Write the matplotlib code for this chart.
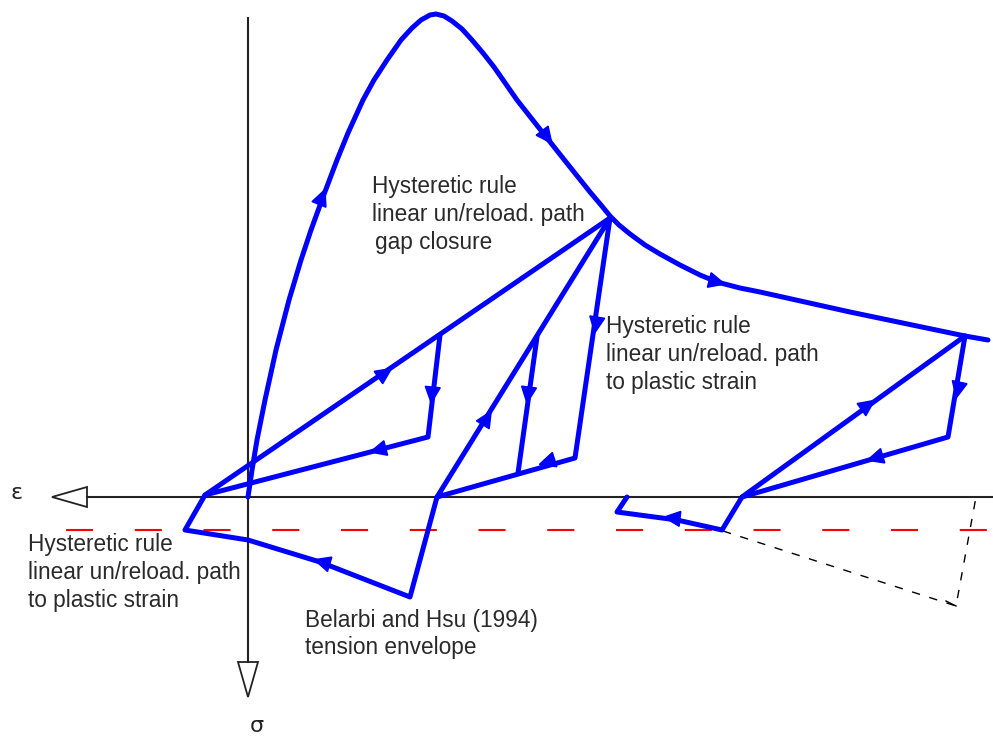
import matplotlib
matplotlib.use("Agg")
import matplotlib.pyplot as plt
from matplotlib.patches import Polygon
import numpy as np

plt.rcParams['lines.scale_dashes'] = False

# ---- schematic data (strain -> x, stress -> y, in drawing units) ----
env_x = [248, 252, 257, 265, 276, 289, 301, 311, 323, 337, 348, 363, 374, 387, 401, 412,
         421, 430, 436, 444, 452, 462, 472, 483, 494, 517, 543, 570, 590, 601, 610,
         619, 630, 645, 660, 680, 700, 717, 740, 760, 850, 965, 988]
env_y = [497, 470, 440, 400, 350, 300, 260, 230, 197, 160, 133, 100, 80, 60, 40, 28,
         20, 15, 14, 16, 21, 29, 40, 53, 67, 100, 133, 167, 192, 205, 216,
         225, 234, 245, 254, 265, 275, 282, 288, 292, 312, 336, 340]

cyc1_x = [205, 610]
cyc1_y = [495, 218]
cyc1b_x = [440, 428, 205, 185, 248, 320, 410, 437, 610, 575, 437]
cyc1b_y = [335, 437, 495, 530, 540, 562, 597, 497, 218, 458, 497]
cyc2_x = [537, 518]
cyc2_y = [337, 473]
cyc3_x = [965, 742, 722, 677, 617, 627]
cyc3_y = [336, 497, 530, 520, 512, 497]
cyc3b_x = [965, 948, 742]
cyc3b_y = [336, 437, 497]

dash_x = [723, 956, 976]
dash_y = [531, 606, 497]
hook_x = [946, 956]
hook_y = [601, 606]

ref_y = 530
ref_x = [66, 993]

# arrow markers: position and a point it is heading to
arrows = [
    (322, 197, 337, 160), (547, 137, 570, 167), (717, 282, 740, 288),
    (385, 373, 610, 218), (432, 395, 428, 437), (378, 450, 205, 495),
    (322, 562, 248, 540), (487, 418, 610, 218), (528, 395, 518, 473),
    (547, 462, 437, 497), (596, 325, 575, 458),
    (868, 405, 965, 336), (958, 390, 948, 437), (875, 458, 742, 497),
    (672, 518, 617, 512),
]

labels_gap = ["Hysteretic rule", "linear un/reload. path", "gap closure"]
labels_mid = ["Hysteretic rule", "linear un/reload. path", "to plastic strain"]
labels_left = ["Hysteretic rule", "linear un/reload. path", "to plastic strain"]
labels_bel = ["Belarbi and Hsu (1994)", "tension envelope"]

BLUE = "#0000ff"
fig = plt.figure(figsize=(9.93, 7.36), dpi=100)
ax = fig.add_axes([0, 0, 1, 1])
ax.set_xlim(0, 993)
ax.set_ylim(736, 0)
ax.axis('off')

# axes
ax.plot([87, 993], [497, 497], color="#222222", lw=1.5, zorder=2)
ax.plot([248, 248], [18, 662], color="#222222", lw=1.5, zorder=2)
ax.add_patch(Polygon([[52, 497], [87, 487], [87, 507]], closed=True, fill=False,
                     edgecolor="#222222", lw=1.3, zorder=2))
ax.add_patch(Polygon([[248, 697], [238, 662], [258, 662]], closed=True, fill=False,
                     edgecolor="#222222", lw=1.3, zorder=2))
ax.text(17, 493, "ε", fontsize=16, ha='center', va='center', color="#222222",
        family=["DejaVu Sans"])
ax.text(257, 726, "σ", fontsize=16, ha='center', va='center', color="#222222",
        family=["DejaVu Sans"])

# reference dashed red line
ax.plot(ref_x, [ref_y, ref_y], color="#ff0000", lw=1.5,
        linestyle=(0, (19.5, 30)), zorder=1)

# black dashed
ax.plot(dash_x, dash_y, color="black", lw=1.0, linestyle=(0, (6, 7)), zorder=1)
ax.plot(hook_x, hook_y, color="black", lw=1.0, zorder=1)

lw = 3.6
for xs, ys in [(env_x, env_y), (cyc1_x, cyc1_y), (cyc1b_x, cyc1b_y),
               (cyc2_x, cyc2_y), (cyc3_x, cyc3_y), (cyc3b_x, cyc3b_y)]:
    ax.plot(xs, ys, color=BLUE, lw=lw, solid_joinstyle='round',
            solid_capstyle='round', zorder=3)

L, W = 16, 7.5
for x, y, tx, ty in arrows:
    d = np.array([tx - x, ty - y], float)
    d /= np.hypot(*d)
    n = np.array([-d[1], d[0]])
    p = np.array([x, y], float)
    tip = p + d * L / 2
    b1 = p - d * L / 2 + n * W
    b2 = p - d * L / 2 - n * W
    ax.add_patch(Polygon([tip, b1, b2], closed=True, color=BLUE, zorder=4))

tkw = dict(fontsize=16.3, color="#2a2a2a", family=["Liberation Sans", "DejaVu Sans"],
           va='center', ha='left')
for i, s in enumerate(labels_gap):
    ax.text(372 + (3 if i == 2 else 0), 187 + 27.5 * i, s, **tkw)
for i, s in enumerate(labels_mid):
    ax.text(606, 327 + 27.5 * i, s, **tkw)
for i, s in enumerate(labels_left):
    ax.text(28, 545 + 27.5 * i, s, **tkw)
for i, s in enumerate(labels_bel):
    ax.text(305, 620 + 27.5 * i, s, **tkw)

fig.savefig("out.png", dpi=100)
